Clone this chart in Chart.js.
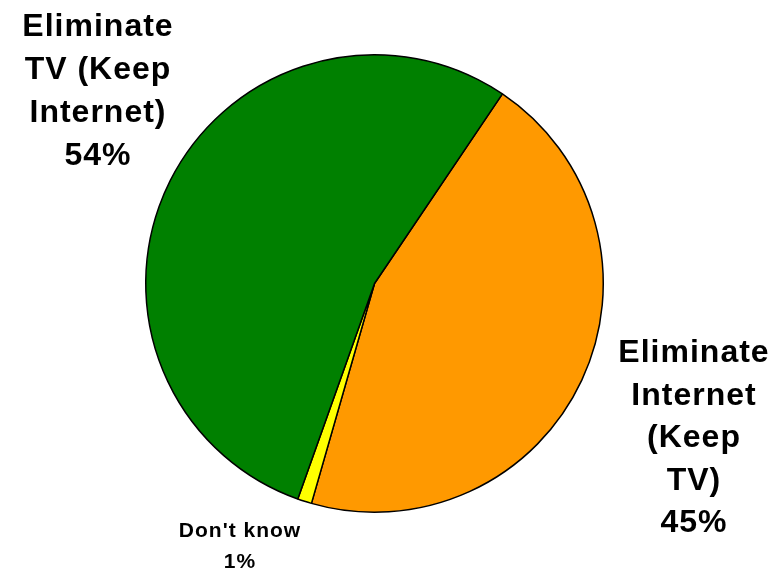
<!DOCTYPE html>
<html>
<head>
<meta charset="utf-8">
<script src="https://cdn.jsdelivr.net/npm/chart.js@4"></script>
<style>
  html, body { margin: 0; padding: 0; background: #fff; }
  #wrap { width: 784px; height: 569px; }
</style>
</head>
<body>
<div id="wrap"><canvas id="pie-chart" width="784" height="569"></canvas></div>
<script>
// slices in drawing order, clockwise from the orange/green boundary
const categories = [
  ["Eliminate", "Internet", "(Keep", "TV)"],
  ["Don't know"],
  ["Eliminate", "TV (Keep", "Internet)"],
];
const shares = [45, 1, 54];
const colors = ["#FF9900", "#FFFF00", "#008000"];

// where each label block sits: center x, first baseline, line step, font size
const labelSpots = [
  { x: 694, y: 362, step: 42.5, size: 32, spacing: 1 },
  { x: 240, y: 537, step: 31, size: 21, spacing: 1 },
  { x: 98, y: 36, step: 43, size: 32, spacing: 1 },
];

const labelPlugin = {
  id: "sliceLabels",
  afterDraw(chart) {
    const ctx = chart.ctx;
    ctx.save();
    ctx.fillStyle = "#000";
    ctx.textAlign = "center";
    ctx.textBaseline = "alphabetic";
    categories.forEach((lines, i) => {
      const spot = labelSpots[i];
      ctx.font = "bold " + spot.size + "px 'Liberation Sans', Arial, sans-serif";
      ctx.letterSpacing = spot.spacing + "px";
      const all = lines.concat([shares[i] + "%"]);
      all.forEach((t, j) => ctx.fillText(t, spot.x, spot.y + j * spot.step));
    });
    ctx.restore();
  },
};

const pieChart = document.getElementById("pie-chart");

new Chart(pieChart, {
  type: "pie",
  data: {
    labels: categories,
    datasets: [
      {
        data: shares,
        backgroundColor: colors,
        borderColor: "#000",
        borderWidth: 1.5,
      },
    ],
  },
  options: {
    responsive: false,
    animation: false,
    rotation: 34,
    layout: {
      padding: { left: 145, right: 180, top: 54, bottom: 56 },
    },
    plugins: {
      legend: { display: false },
      tooltip: { enabled: false },
    },
  },
  plugins: [labelPlugin],
});
</script>
</body>
</html>
